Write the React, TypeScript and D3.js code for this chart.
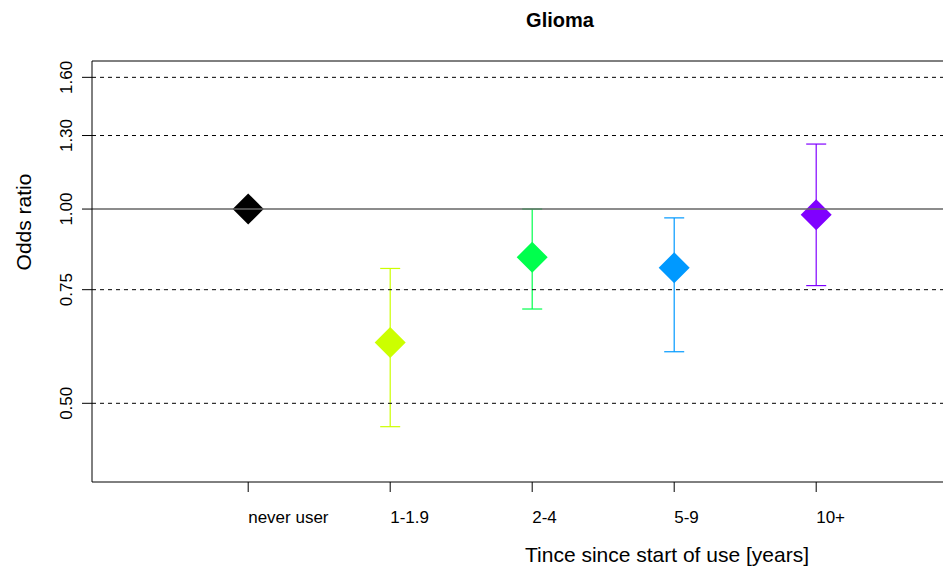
import React from 'react';
import { scaleLinear, scaleLog } from 'd3';

const categories = ['never user', '1-1.9', '2-4', '5-9', '10+'];
const oddsRatio = [1.0, 0.621, 0.842, 0.811, 0.98];
const lowerCI = [null, 0.46, 0.7, 0.601, 0.761];
const upperCI = [null, 0.809, 1.0, 0.969, 1.261];
const colors = ['#000000', '#CCFF00', '#00FF4D', '#0099FF', '#8000FF'];
const yTicks = [0.5, 0.75, 1.0, 1.3, 1.6];

const W = 943;
const H = 573;
const left = 92;
const top = 61;
const bottom = 482;

export default function App() {
  const x = scaleLinear().domain([-0.1, 5.9]).range([left, 944]);
  const y = scaleLog().domain([0.3776, 1.696]).range([bottom, top]);
  const font = '"Liberation Sans", Arial, sans-serif';
  const r = 15.5;

  return (
    <svg width={W} height={H} style={{ position: 'absolute', left: 0, top: 0 }} fontFamily={font}>
      <rect width={W} height={H} fill="#fff" />
      <text x={560} y={27} textAnchor="middle" fontWeight="bold" fontSize={20}>Glioma</text>

      {/* error bars */}
      {categories.map((c, i) => {
        const lo = lowerCI[i];
        const hi = upperCI[i];
        if (lo == null || hi == null) return null;
        const cx = x(i + 1);
        return (
          <g key={'eb' + c} stroke={colors[i]} strokeWidth={1.2}>
            <line x1={cx} x2={cx} y1={y(lo)} y2={y(hi)} />
            <line x1={cx - 10} x2={cx + 10} y1={y(lo)} y2={y(lo)} />
            <line x1={cx - 10} x2={cx + 10} y1={y(hi)} y2={y(hi)} />
          </g>
        );
      })}

      {/* points */}
      {categories.map((c, i) => {
        const cx = x(i + 1);
        const cy = y(oddsRatio[i]);
        return (
          <path
            key={'pt' + c}
            d={`M${cx},${cy - r}L${cx + r},${cy}L${cx},${cy + r}L${cx - r},${cy}Z`}
            fill={colors[i]}
          />
        );
      })}

      {/* reference lines */}
      {yTicks.map((t) => (
        <line
          key={'g' + t}
          x1={left}
          x2={W}
          y1={y(t)}
          y2={y(t)}
          stroke={t === 1 ? '#666' : '#000'}
          strokeWidth={t === 1 ? 1.6 : 1}
          strokeDasharray={t === 1 ? undefined : '4,4'}
        />
      ))}

      {/* box */}
      <path d={`M${W},${top}H${left}V${bottom}H${W}`} fill="none" stroke="#000" strokeWidth={1} />

      {/* y axis */}
      {yTicks.map((t) => (
        <g key={'yt' + t}>
          <line x1={left - 10} x2={left} y1={y(t)} y2={y(t)} stroke="#000" />
          <text
            transform={`translate(72,${y(t)}) rotate(-90)`}
            textAnchor="middle"
            fontSize={17}
          >
            {t.toFixed(2)}
          </text>
        </g>
      ))}
      <text transform={`translate(31,222) rotate(-90)`} textAnchor="middle" fontSize={21}>
        Odds ratio
      </text>

      {/* x axis */}
      {categories.map((c, i) => (
        <g key={'xt' + c}>
          <line x1={x(i + 1)} x2={x(i + 1)} y1={bottom} y2={bottom + 10} stroke="#000" />
          <text x={x(i + 1)} y={523} fontSize={17}>{c}</text>
        </g>
      ))}
      <text x={667} y={562} textAnchor="middle" fontSize={21}>
        Tince since start of use [years]
      </text>
    </svg>
  );
}
